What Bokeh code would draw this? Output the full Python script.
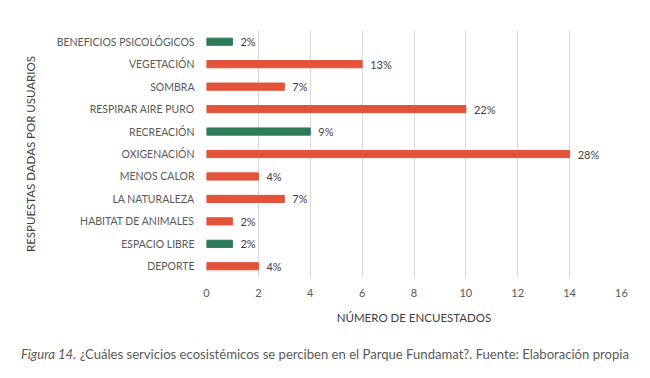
from bokeh.plotting import figure
from bokeh.layouts import column
from bokeh.models import ColumnDataSource, FixedTicker, Range1d, Div
from bokeh.core.properties import value
from bokeh.embed import file_html
from bokeh.resources import INLINE

categories = ["BENEFICIOS PSICOLÓGICOS", "VEGETACIÓN", "SOMBRA", "RESPIRAR AIRE PURO",
              "RECREACIÓN", "OXIGENACIÓN", "MENOS CALOR", "LA NATURALEZA",
              "HABITAT DE ANIMALES", "ESPACIO LIBRE", "DEPORTE"]
values = [1, 6, 3, 10, 4, 14, 2, 3, 1, 1, 2]
percent_labels = ["2%", "13%", "7%", "22%", "9%", "28%", "4%", "7%", "2%", "2%", "4%"]
groups = ["g", "o", "o", "o", "g", "o", "o", "o", "o", "g", "o"]
x_ticks = [0, 2, 4, 6, 8, 10, 12, 14, 16]
caption_italic = "Figura 14."
caption_text = "¿Cuáles servicios ecosistémicos se perciben en el Parque Fundamat?. Fuente: Elaboración propia"

ORANGE = "#E2533A"
GREEN = "#2E7B5C"
FONT = "Lato"

colors = [GREEN if g == "g" else ORANGE for g in groups]
src = ColumnDataSource(dict(cat=categories, val=values, lab=percent_labels, col=colors))

W, H, HC = 634, 335, 27
p = figure(width=W, height=H, y_range=list(reversed(categories)), x_range=Range1d(0, 16),
           output_backend="svg", toolbar_location=None,
           min_border_left=206, min_border_right=13, min_border_top=30, min_border_bottom=58)
p.outline_line_color = None
p.hbar(y="cat", right="val", left=0, height=0.32, color="col", source=src)
p.text(x="val", y="cat", text="lab", source=src, x_offset=8, text_baseline="middle",
       text_font=value(FONT), text_font_size="11px", text_color="#404040")

p.xaxis.ticker = FixedTicker(ticks=x_ticks)
p.xgrid.ticker = FixedTicker(ticks=x_ticks)
p.xgrid.grid_line_color = "#D9D9D9"
p.ygrid.grid_line_color = None
for ax in (p.xaxis[0], p.yaxis[0]):
    ax.axis_line_color = None
    ax.major_tick_line_color = None
    ax.minor_tick_line_color = None
    ax.major_label_text_font = FONT
    ax.major_label_text_font_size = "10.5px"
    ax.major_label_text_color = "#595959"
    ax.axis_label_text_font = FONT
    ax.axis_label_text_font_size = "11.5px"
    ax.axis_label_text_font_style = "normal"
    ax.axis_label_text_color = "#404040"
p.xaxis.major_label_text_font_size = "11px"
p.xaxis.axis_label = "NÚMERO DE ENCUESTADOS"
p.yaxis.axis_label = "RESPUESTAS DADAS POR USUARIOS"
p.xaxis.major_label_standoff = 5
p.xaxis.axis_label_standoff = 11
p.yaxis.major_label_standoff = 6
p.yaxis.axis_label_standoff = 17

caption = Div(text=f"<i>{caption_italic}</i> {caption_text}", width=W, height=HC,
              margin=(0, 0, 0, 0),
              styles={"font-family": FONT, "font-size": "13.1px", "color": "#595959",
                      "line-height": "16px", "padding-top": "11px", "padding-left": "21px",
                      "white-space": "nowrap"})

layout = column(p, caption, spacing=0)
open("out.html", "w").write(file_html(layout, INLINE))
